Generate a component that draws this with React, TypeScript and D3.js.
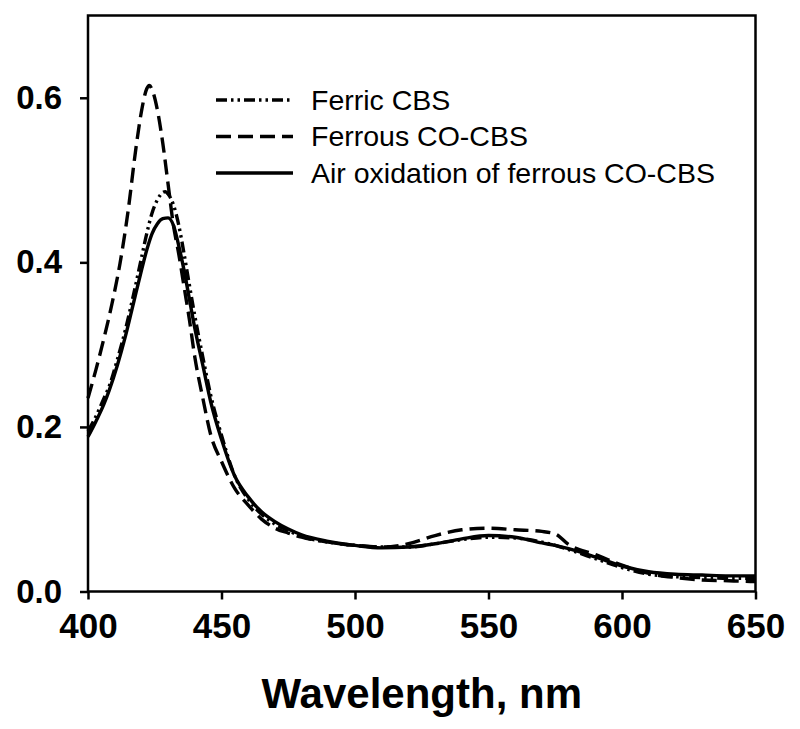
import React, { useEffect, useRef } from "react";
import * as d3 from "d3";

const ferricWl = [400, 403, 406, 408, 411, 414, 417, 420, 422, 424, 426, 428, 429, 430, 432, 434, 436, 438, 440, 443, 446, 450, 455, 460, 465, 470, 475, 480, 490, 500, 510, 520, 530, 540, 550, 560, 570, 575, 580, 590, 600, 610, 620, 630, 640, 650];
const ferricAbs = [0.195, 0.213, 0.235, 0.25, 0.282, 0.318, 0.36, 0.405, 0.435, 0.46, 0.476, 0.485, 0.486, 0.483, 0.47, 0.445, 0.41, 0.372, 0.335, 0.285, 0.238, 0.19, 0.14, 0.112, 0.094, 0.082, 0.074, 0.067, 0.06, 0.056, 0.054, 0.054, 0.058, 0.063, 0.066, 0.065, 0.06, 0.056, 0.051, 0.04, 0.029, 0.021, 0.018, 0.017, 0.016, 0.016];

const ferrousWl = [400, 403, 406, 409, 412, 415, 418, 420, 422, 423, 424, 426, 428, 430, 432, 434, 436, 438, 440, 443, 446, 450, 455, 460, 465, 470, 475, 480, 490, 500, 510, 520, 530, 540, 550, 560, 570, 575, 580, 590, 600, 610, 620, 630, 640, 650];
const ferrousAbs = [0.235, 0.27, 0.308, 0.35, 0.399, 0.462, 0.54, 0.583, 0.611, 0.615, 0.61, 0.585, 0.545, 0.495, 0.445, 0.41, 0.37, 0.33, 0.285, 0.235, 0.19, 0.158, 0.125, 0.105, 0.088, 0.077, 0.071, 0.066, 0.06, 0.056, 0.054, 0.058, 0.068, 0.075, 0.077, 0.075, 0.073, 0.07, 0.057, 0.045, 0.032, 0.022, 0.017, 0.014, 0.013, 0.012];

const airWl = [400, 403, 406, 408, 411, 414, 417, 420, 422, 424, 426, 428, 430, 432, 434, 436, 438, 440, 443, 446, 450, 455, 460, 465, 470, 475, 480, 490, 500, 510, 520, 530, 540, 550, 560, 570, 575, 580, 590, 600, 610, 620, 630, 640, 650];
const airAbs = [0.188, 0.207, 0.228, 0.245, 0.275, 0.31, 0.35, 0.39, 0.415, 0.435, 0.447, 0.453, 0.454, 0.445, 0.42, 0.39, 0.355, 0.32, 0.275, 0.23, 0.185, 0.14, 0.115, 0.097, 0.085, 0.076, 0.069, 0.061, 0.056, 0.053, 0.054, 0.058, 0.064, 0.068, 0.066, 0.059, 0.056, 0.052, 0.042, 0.031, 0.024, 0.021, 0.02, 0.019, 0.019];

const seriesNames = ["Ferric CBS", "Ferrous CO-CBS", "Air oxidation of ferrous CO-CBS"];
const xTicks = [400, 450, 500, 550, 600, 650];
const yTicks = [0.0, 0.2, 0.4, 0.6];
const xLabel = "Wavelength, nm";

const W = 800;
const H = 729;
const M = { left: 88, right: 755.5, top: 15.5, bottom: 591.5 };

export default function App() {
  const ref = useRef<SVGSVGElement>(null);

  useEffect(() => {
    document.body.style.margin = "0";
    const svg = d3.select(ref.current);
    svg.selectAll("*").remove();

    const x = d3.scaleLinear().domain([400, 650]).range([M.left, M.right]);
    const y = d3.scaleLinear().domain([0, 0.7]).range([M.bottom, M.top]);
    const font = "'Liberation Sans', Arial, sans-serif";

    const series = [
      { wl: ferricWl, v: ferricAbs, dash: "11,4,2.5,4,2.5,4" },
      { wl: ferrousWl, v: ferrousAbs, dash: "15,7" },
      { wl: airWl, v: airAbs, dash: null },
    ];

    const line = d3
      .line<[number, number]>()
      .x((d) => x(d[0]))
      .y((d) => y(d[1]))
      .curve(d3.curveMonotoneX);

    const plot = svg.append("g");
    series.forEach((s) => {
      const pts: [number, number][] = s.wl.map((w, i) => [w, s.v[i]]);
      const p = plot
        .append("path")
        .attr("d", line(pts))
        .attr("fill", "none")
        .attr("stroke", "#000")
        .attr("stroke-width", 3.4)
        .attr("stroke-linejoin", "round");
      if (s.dash) p.attr("stroke-dasharray", s.dash);
    });

    // frame
    svg
      .append("rect")
      .attr("x", M.left)
      .attr("y", M.top)
      .attr("width", M.right - M.left)
      .attr("height", M.bottom - M.top)
      .attr("fill", "none")
      .attr("stroke", "#000")
      .attr("stroke-width", 2.5);

    // x axis
    const xAxis = d3
      .axisBottom(x)
      .tickValues(xTicks)
      .tickSize(8)
      .tickPadding(14)
      .tickFormat(d3.format("d"));
    const gx = svg.append("g").attr("transform", `translate(0,${M.bottom})`).call(xAxis);
    gx.select(".domain").remove();
    gx.selectAll("line").attr("stroke-width", 2.5);
    gx.selectAll("text")
      .attr("font-family", font)
      .attr("font-weight", "bold")
      .attr("font-size", 35)
      .attr("fill", "#000");

    // y axis
    const yAxis = d3
      .axisLeft(y)
      .tickValues(yTicks)
      .tickSize(8)
      .tickPadding(18)
      .tickFormat(d3.format(".1f"));
    const gy = svg.append("g").attr("transform", `translate(${M.left},0)`).call(yAxis);
    gy.select(".domain").remove();
    gy.selectAll("line").attr("stroke-width", 2.5);
    gy.selectAll("text")
      .attr("font-family", font)
      .attr("font-weight", "bold")
      .attr("font-size", 33)
      .attr("fill", "#000");

    // x label
    svg
      .append("text")
      .attr("x", (M.left + M.right) / 2)
      .attr("y", 708)
      .attr("text-anchor", "middle")
      .attr("font-family", font)
      .attr("font-weight", "bold")
      .attr("font-size", 42)
      .text(xLabel);

    // legend
    const lg = svg.append("g");
    seriesNames.forEach((name, i) => {
      const yy = 100 + i * 36.5;
      const l = lg
        .append("line")
        .attr("x1", 216)
        .attr("x2", 293)
        .attr("y1", yy)
        .attr("y2", yy)
        .attr("stroke", "#000")
        .attr("stroke-width", 3.4);
      if (series[i].dash) l.attr("stroke-dasharray", series[i].dash);
      lg.append("text")
        .attr("x", 311)
        .attr("y", yy)
        .attr("dy", "0.35em")
        .attr("font-family", font)
        .attr("font-size", 28.5)
        .text(name);
    });
  }, []);

  return (
    <svg
      ref={ref}
      width={W}
      height={H}
      style={{ position: "absolute", left: 0, top: 0, background: "#fff" }}
    />
  );
}
